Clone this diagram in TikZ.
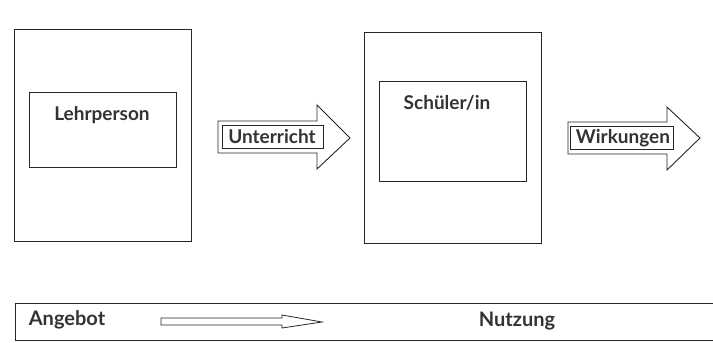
\documentclass[tikz,border=0pt]{standalone}
\usepackage{fontspec}
\setmainfont{Lato}
\begin{document}
\begin{tikzpicture}[x=1pt,y=-1pt,
  line width=0.9pt,
  frame/.style={draw=black!85, inner sep=0pt, outer sep=0pt},
  lbl/.style={font=\fontsize{19}{22}\selectfont\bfseries, text=black!80, inner sep=0pt},
  tag/.style={frame, fill=white},
  bigarrow/.style={draw=black!85, fill=white, line join=miter}]
\useasboundingbox (0,0) rectangle (713,343);

% Lehrperson block
\node[frame, minimum width=177pt, minimum height=212pt] (teacher) at (102.5,135) {};
\node[frame, minimum width=147pt, minimum height=75pt] (teacherIn) at (102.5,129.5) {};
\node[lbl] (teacherTxt) at (102,115) {Lehrperson};

% Schueler block
\node[frame, minimum width=177pt, minimum height=211pt] (pupil) at (452.5,137.5) {};
\node[frame, minimum width=147pt, minimum height=100pt] (pupilIn) at (452.5,131) {};
\node[lbl] (pupilTxt) at (447,103) {Schüler/in};

% Unterricht arrow
\coordinate (uA) at (218,121);
\draw[bigarrow] (uA) -- (317,121) -- (317,105) -- (350,138) -- (317,169)
  -- (317,153) -- (218,153) -- cycle;
\node[tag, minimum width=101pt, minimum height=23pt] (uBox) at (272.5,136.5) {};
\node[lbl] (uTxt) at (272,137) {Unterricht};

% Wirkungen arrow
\coordinate (wA) at (568,122);
\draw[bigarrow] (wA) -- (667,122) -- (667,107) -- (700,138) -- (667,170)
  -- (667,154) -- (568,154) -- cycle;
\node[tag, minimum width=103pt, minimum height=23pt] (wBox) at (621.5,137.5) {};
\node[lbl] (wTxt) at (623,138) {Wirkungen};

% Angebot / Nutzung bar
\coordinate (barTR) at (713,303);
\coordinate (barBR) at (713,340);
\draw[draw=black!85] (barTR) -- (15,303) -- (15,340) -- (barBR);
\node[lbl, font=\fontsize{20}{22}\selectfont\bfseries] (offer) at (67,320) {Angebot};
\node[lbl, font=\fontsize{20}{22}\selectfont\bfseries] (use) at (517,321) {Nutzung};
\coordinate (sA) at (161,318);
\draw[draw=black!85, line width=0.8pt, fill=white, line join=miter]
  (sA) -- (282,318) -- (282,315) -- (322,322) -- (282,328) -- (282,325)
  -- (161,325) -- cycle;
\end{tikzpicture}
\end{document}
